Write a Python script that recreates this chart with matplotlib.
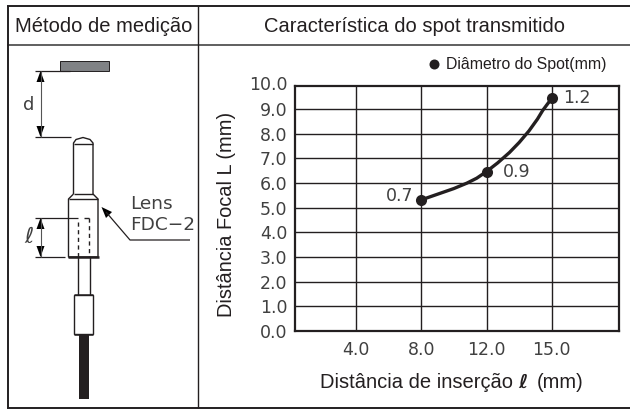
import matplotlib
matplotlib.use("Agg")
import matplotlib.pyplot as plt
from matplotlib.patches import Rectangle, Polygon

# data
insertion_labels = ["4.0", "8.0", "12.0", "15.0"]
insertion_pos = [1, 2, 3, 4]
focal_ticks = [0, 1, 2, 3, 4, 5, 6, 7, 8, 9]
spot_x = [2, 3, 4]
spot_y = [5.32, 6.47, 9.44]
spot_labels = ["0.7", "0.9", "1.2"]
curve_x = [2, 2.25, 2.5, 2.7, 2.85, 3, 3.17, 3.35, 3.5, 3.65, 3.78, 3.86, 3.93, 4]
curve_y = [5.32, 5.55, 5.78, 6.0, 6.2, 6.47, 6.82, 7.24, 7.65, 8.12, 8.6, 8.95, 9.2, 9.44]

INK = "#231f20"
SOFT = "#404040"
FONT = "Liberation Sans"

fig = plt.figure(figsize=(6.3, 4.09), dpi=100)

# layer in pixels for the table and the drawing
bg = fig.add_axes([0, 0, 1, 1])
bg.set_xlim(0, 630)
bg.set_ylim(409, 0)
bg.axis("off")


def seg(x, y, lw=1.0, color=INK, ls="-"):
    bg.plot(x, y, color=color, lw=lw, ls=ls, solid_capstyle="butt")


def dim_arrow(x, y1, y2):
    # double headed dimension arrow
    seg([x, x], [y1, y2], 0.8, "#555555")
    bg.add_patch(Polygon([[x, y1], [x - 4, y1 + 11], [x + 4, y1 + 11]], color="black", lw=0))
    bg.add_patch(Polygon([[x, y2], [x - 4, y2 - 11], [x + 4, y2 - 11]], color="black", lw=0))


# table lines
seg([7, 630], [6, 6], 1.4)
seg([7, 630], [45, 45], 1.2, "#444444")
seg([7, 630], [407.5, 407.5], 1.4)
seg([7.5, 7.5], [6, 408], 1.4)
seg([198, 198], [6, 408], 1.0)

bg.text(103.5, 26, "Método de medição", ha="center", va="center", fontsize=14.5, family=FONT, color=INK)
bg.text(414, 26, "Característica do spot transmitido", ha="center", va="center", fontsize=14.5, family=FONT, color=INK)

# target plate and distance d
bg.add_patch(Rectangle((60, 61), 48.5, 9.5, fc="#808285", ec=INK, lw=0.7))
seg([35, 70], [70.5, 70.5], 0.9)
seg([35, 71], [137, 137], 0.9)
dim_arrow(40.5, 71, 137)
bg.text(29, 105, "d", ha="center", va="center", fontsize=13, family="DejaVu Sans", color=SOFT)

# lens body
seg([73.5, 73.5, 76, 83, 90, 93, 93], [194, 143, 139.5, 137.5, 139.5, 143, 194], 1.0)
seg([73.5, 93], [144, 144], 1.0)
seg([73.5, 68.5, 68.5, 98, 98, 93], [194, 199, 257, 257, 199, 194], 1.0)
seg([68.5, 98], [199, 199], 1.0)
seg([73.5, 93], [194, 194], 1.0)
seg([68, 98.5], [257, 257], 1.8)
seg([77.5, 77.5], [222, 257], 1.0, ls=(0, (3, 2.5)))
seg([89, 89], [218, 257], 1.0, ls=(0, (3, 2.5)))
seg([84, 89], [218, 218], 1.0)
seg([77.5, 77.5], [257, 295], 1.0)
seg([90, 90], [257, 295], 1.0)
bg.add_patch(Rectangle((74, 295), 18.7, 38.5, fc="white", ec=INK, lw=1.0, zorder=3))
seg([74, 92.7], [295, 295], 1.8)
seg([74, 92.7], [333.5, 333.5], 1.8)
bg.add_patch(Rectangle((79, 334), 10, 65, fc=INK, ec="none"))

# insertion distance
seg([35, 78], [217.5, 217.5], 0.9)
seg([35, 65], [257, 257], 0.9)
dim_arrow(40.5, 218, 257)
bg.text(29, 237, "ℓ", ha="center", va="center", fontsize=16, family="DejaVu Sans", color=SOFT, style="italic")

# lens callout
bg.text(130, 204, "Lens", ha="left", va="center", fontsize=13.3, family="DejaVu Sans", color=SOFT)
bg.text(130, 225, "FDC−2", ha="left", va="center", fontsize=13.3, family="DejaVu Sans", color=SOFT)
seg([190, 130, 106], [240, 240, 212], 0.9)
bg.add_patch(Polygon([[101.5, 207], [112, 212], [106, 218]], color="black", lw=0))

# chart
l, r, t, b = 294.5, 618.5, 86, 331
ax = fig.add_axes([l / 630, 1 - b / 409, (r - l) / 630, (b - t) / 409])
ax.patch.set_alpha(0)
ax.set_xlim(0.06, 5.02)
ax.set_ylim(0, 9.94)
ax.set_xticks(insertion_pos)
ax.set_xticklabels(insertion_labels)
ax.set_yticks(focal_ticks)
ax.set_yticklabels([f"{v:.1f}" for v in focal_ticks])
ax.tick_params(length=0, labelsize=12.5, labelcolor=SOFT, pad=5)
ax.tick_params(axis="x", pad=7.5)
ax.grid(True, color=INK, lw=1.0)
ax.set_axisbelow(True)
for s in ax.spines.values():
    s.set_linewidth(1.6)
    s.set_color(INK)
ax.text(-0.02, 9.98, "10.0", transform=ax.get_yaxis_transform(), ha="right", va="center",
        fontsize=12.5, color=SOFT)

ax.plot(curve_x, curve_y, color=INK, lw=2.4, solid_capstyle="round", zorder=3)
ax.plot(spot_x, spot_y, "o", color=INK, ms=8, mew=0, zorder=4)
offsets = [(-6, 3, "right"), (12, 0, "left"), (8, 0, "left")]
for x, y, s, (dx, dy, ha) in zip(spot_x, spot_y, spot_labels, offsets):
    ax.annotate(s, (x, y), xytext=(dx, dy), textcoords="offset points", ha=ha, va="center",
                fontsize=12.5, color=SOFT, zorder=5)

# axis titles
bg.text(320, 382, "Distância de inserção", ha="left", va="center", fontsize=14.5, family=FONT, color=INK)
bg.text(523, 382, "ℓ", ha="center", va="center", fontsize=14, family="DejaVu Sans", style="italic", color=INK, weight="bold")
bg.text(537, 382, "(mm)", ha="left", va="center", fontsize=14.5, family=FONT, color=INK)
bg.text(226, 214.5, "Distância Focal L (mm)", rotation=90, ha="center", va="center", fontsize=14.4, family=FONT, color=INK)

# legend
bg.plot([434], [64], "o", color=INK, ms=7.2, mew=0)
bg.text(446, 64, "Diâmetro do Spot(mm)", ha="left", va="center", fontsize=11.4, family=FONT, color=INK)

fig.savefig("out.png", dpi=100)
